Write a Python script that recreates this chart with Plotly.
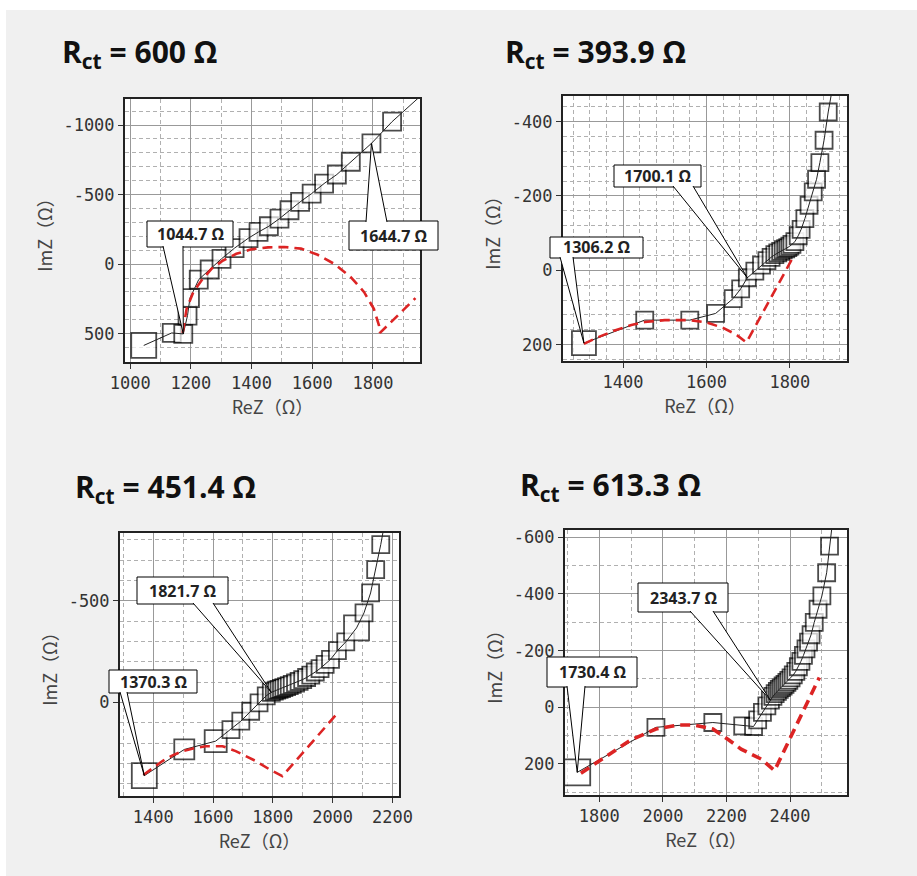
import plotly.graph_objects as go

W, H = 917, 876

# ---------------- data ----------------
rct_values = ["600", "393.9", "451.4", "613.3"]

# panel 1
p1_re = [1044.7, 1137, 1175, 1189, 1197, 1226, 1262, 1301, 1344, 1390, 1423, 1457, 1492,
         1525, 1560, 1598, 1639, 1681, 1727, 1795, 1863]
p1_im = [585, 495, 502, 370, 245, 111, 39, -38, -115, -187, -231, -272, -327,
         -387, -447, -507, -579, -644, -736, -868, -1024]
p1_tail = (1960, -1215)
p1_fit_re = [1173, 1186, 1208, 1235, 1268, 1306, 1350, 1399, 1454, 1508, 1563, 1618,
             1672, 1727, 1771, 1803, 1820, 1823, 1940]
p1_fit_im = [495, 322, 202, 118, 34, -26, -74, -106, -120, -123, -111, -67,
             -2, 94, 202, 322, 442, 495, 245]

# panel 2
p2_re = [1306.2, 1452, 1560, 1622, 1664, 1682, 1698, 1716, 1732, 1745, 1755, 1764, 1771,
         1778, 1784, 1790, 1795, 1800, 1805, 1812, 1820, 1827, 1836, 1846, 1856, 1864,
         1872, 1882, 1892]
p2_im = [196, 134, 134, 116, 76, 50, 20, 2, -14, -26, -35, -42, -47,
         -51, -55, -58, -61, -65, -70, -77, -93, -110, -139, -175, -211, -245,
         -290, -350, -426]
p2_tail = (1902, -490)
p2_fit_re = [1306, 1340, 1380, 1420, 1452, 1500, 1560, 1600, 1640, 1670, 1696, 1808]
p2_fit_im = [198, 180, 162, 147, 139, 134, 134, 140, 155, 172, 194, -36]

# panel 3
p3_re = [1370.3, 1504, 1609, 1660, 1693, 1726, 1754, 1778, 1795, 1805, 1813, 1821, 1829,
         1837, 1846, 1855, 1865, 1876, 1888, 1900, 1913, 1927, 1942, 1958, 1975, 1993,
         2016, 2044, 2080, 2105, 2127, 2144, 2161]
p3_im = [360, 231, 190, 133, 92, 43, 2, -33, -50, -56, -61, -65, -69,
         -73, -78, -83, -89, -96, -104, -113, -123, -135, -150, -167, -188, -212,
         -255, -298, -367, -441, -539, -654, -777]
p3_tail = (2170, -850)
p3_fit_re = [1367, 1400, 1431, 1465, 1498, 1540, 1576, 1632, 1676, 1743, 1790, 1832, 2022]
p3_fit_im = [357, 320, 288, 260, 239, 224, 215, 215, 239, 288, 330, 362, 43]

# panel 4
p4_re = [1730.4, 1978, 2157, 2251, 2285, 2298, 2313, 2327, 2338, 2346, 2353, 2360, 2366,
         2372, 2378, 2384, 2390, 2396, 2403, 2410, 2418, 2426, 2434, 2442, 2450, 2458,
         2466, 2476, 2488, 2500, 2515, 2524]
p4_im = [230, 71, 54, 66, 68, 45, 18, -5, -25, -38, -48, -56, -63,
         -69, -75, -81, -88, -95, -104, -114, -127, -143, -162, -183, -206, -230,
         -256, -300, -346, -393, -475, -569]
p4_tail = (2533, -650)
p4_fit_re = [1742, 1790, 1837, 1900, 1978, 2046, 2099, 2157, 2204, 2246, 2309, 2351, 2492]
p4_fit_im = [233, 196, 160, 115, 77, 63, 63, 77, 113, 148, 183, 224, -105]

# tick labels
p1_xticks = [1000, 1200, 1400, 1600, 1800]
p1_yticks = [-1000, -500, 0, 500]
p2_xticks = [1400, 1600, 1800]
p2_yticks = [-400, -200, 0, 200]
p3_xticks = [1400, 1600, 1800, 2000, 2200]
p3_yticks = [-500, 0]
p4_xticks = [1800, 2000, 2200, 2400]
p4_yticks = [-600, -400, -200, 0, 200]

callout_labels = ["1044.7 Ω", "1644.7 Ω", "1700.1 Ω", "1306.2 Ω",
                  "1821.7 Ω", "1370.3 Ω", "2343.7 Ω", "1730.4 Ω"]
callout_points = [2, 19, 6, 0, 8, 0, 8, 0]   # index of pointed data point
callout_panels = [0, 0, 1, 1, 2, 2, 3, 3]

# ---------------- layout / style ----------------
panels = [
    dict(re=p1_re, im=p1_im, tail=p1_tail, fre=p1_fit_re, fim=p1_fit_im,
         xt=p1_xticks, yt=p1_yticks,
         px=(125, 420), py=(99, 362), xr=[983, 1955], yr=[704, -1187],
         xminor=100, yminor=100, big={0: 25}, small=18, fitw=2.6,
         title_xy=(60, 53)),
    dict(re=p2_re, im=p2_im, tail=p2_tail, fre=p2_fit_re, fim=p2_fit_im,
         xt=p2_xticks, yt=p2_yticks,
         px=(563, 847), py=(96, 361), xr=[1256, 1937], yr=[244, -469],
         xminor=40, yminor=40, big={0: 24}, small=17, fitw=2.6,
         title_xy=(503, 53)),
    dict(re=p3_re, im=p3_im, tail=p3_tail, fre=p3_fit_re, fim=p3_fit_im,
         xt=p3_xticks, yt=p3_yticks,
         px=(120, 399), py=(533, 796), xr=[1289, 2222], yr=[460, -834],
         xminor=100, yminor=100, big={0: 25, 1: 20, 2: 22, 28: 25}, small=17, fitw=2.6,
         title_xy=(73, 488)),
    dict(re=p4_re, im=p4_im, tail=p4_tail, fre=p4_fit_re, fim=p4_fit_im,
         xt=p4_xticks, yt=p4_yticks,
         px=(565, 847), py=(530, 795), xr=[1692, 2579], yr=[310, -626],
         xminor=100, yminor=100, big={0: 26}, small=17, fitw=3.6,
         title_xy=(518, 486)),
]

# callout box geometry in pixels: (x0, y0, x1, y1), wedge side, wedge base x's
callout_geom = [
    ((147, 221, 233, 247), "bottom", 163, 183),
    ((349, 221, 438, 250), "top", 366, 387),
    ((614, 165, 701, 187), "bottom", 673, 693),
    ((550, 237, 643, 258), "bottom", 560, 573),
    ((137, 577, 228, 604), "bottom", 193, 213),
    ((109, 670, 197, 693), "bottom", 120, 127),
    ((638, 583, 728, 612), "bottom", 690, 713),
    ((547, 657, 637, 687), "bottom", 567, 585),
]

TICKFONT = dict(family="DejaVu Sans Mono, monospace", size=17, color="#333")
TITLEFONT = dict(family="Noto Sans CJK JP, Noto Sans, sans-serif", size=18, color="#444")
RED = "#dc2424"

fig = go.Figure()
layout = dict(width=W, height=H, margin=dict(l=0, r=0, t=0, b=0),
              paper_bgcolor="#f0f0f0", plot_bgcolor="white", showlegend=False)


def px2paper(x, y):
    return x / W, 1 - y / H


def data2px(p, x, y):
    (x0, x1), (y0, y1) = p["px"], p["py"]
    xr, yr = p["xr"], p["yr"]
    X = x0 + (x - xr[0]) / (xr[1] - xr[0]) * (x1 - x0)
    Y = y1 - (y - yr[0]) / (yr[1] - yr[0]) * (y1 - y0)
    return X, Y


for i, p in enumerate(panels):
    n = "" if i == 0 else str(i + 1)
    xa, ya = "x" + n, "y" + n
    sizes = [p["big"].get(k, p["small"]) for k in range(len(p["re"]))]
    fig.add_trace(go.Scatter(x=p["re"], y=p["im"], mode="markers", xaxis=xa, yaxis=ya,
                             marker=dict(symbol="square", size=sizes, color="white",
                                         line=dict(color="black", width=1.8))))
    fig.add_trace(go.Scatter(x=p["re"] + [p["tail"][0]], y=p["im"] + [p["tail"][1]],
                             mode="lines", xaxis=xa, yaxis=ya,
                             line=dict(color="#222", width=1)))
    fig.add_trace(go.Scatter(x=p["fre"], y=p["fim"], mode="lines", xaxis=xa, yaxis=ya,
                             line=dict(color=RED, width=p["fitw"], dash="10px,6px")))
    common = dict(showline=True, mirror=True, linewidth=2, linecolor="#222",
                  showgrid=True, gridcolor="#999", gridwidth=1, zeroline=False,
                  ticks="outside", ticklen=5, tickcolor="#333", tickfont=TICKFONT,
                  tickmode="array", automargin=False, fixedrange=True)
    layout["xaxis" + n] = dict(
        common, domain=[p["px"][0] / W, p["px"][1] / W], range=p["xr"], anchor=ya,
        tickvals=p["xt"], ticktext=[str(v) for v in p["xt"]],
        title=dict(text="ReZ（Ω）", font=TITLEFONT, standoff=4),
        minor=dict(tickmode="linear", tick0=p["xt"][0], dtick=p["xminor"], showgrid=True,
                   gridcolor="#b0b0b0", gridwidth=1, griddash="4px,3px", ticks=""))
    layout["yaxis" + n] = dict(
        common, domain=[1 - p["py"][1] / H, 1 - p["py"][0] / H], range=p["yr"], anchor=xa,
        tickvals=p["yt"], ticktext=[str(v) for v in p["yt"]],
        title=dict(text="ImZ（Ω）", font=TITLEFONT, standoff=6),
        minor=dict(tickmode="linear", tick0=p["yt"][0], dtick=p["yminor"], showgrid=True,
                   gridcolor="#b0b0b0", gridwidth=1, griddash="4px,3px", ticks=""))

shapes = [
    dict(type="rect", xref="paper", yref="paper", x0=0, x1=6 / W, y0=0, y1=1,
         fillcolor="white", line=dict(width=0), layer="below"),
    dict(type="rect", xref="paper", yref="paper", x0=0, x1=1, y0=1 - 10 / H, y1=1,
         fillcolor="white", line=dict(width=0), layer="below"),
]
annotations = []

for i, p in enumerate(panels):
    tx, ty = p["title_xy"]
    annotations.append(dict(
        xref="paper", yref="paper", x=tx / W, y=1 - ty / H, xanchor="left", yanchor="middle",
        showarrow=False,
        text="<b>R<sub>ct</sub> = %s Ω</b>" % rct_values[i],
        font=dict(family="Open Sans, Lato, sans-serif", size=30, color="#111")))

for lab, idx, pi, geom in zip(callout_labels, callout_points, callout_panels, callout_geom):
    p = panels[pi]
    (bx0, by0, bx1, by1), side, wa, wb = geom
    tipx, tipy = data2px(p, p["re"][idx], p["im"][idx])
    base = by1 - 1 if side == "bottom" else by0 + 1
    X0, Y0 = px2paper(bx0, by0)
    X1, Y1 = px2paper(bx1, by1)
    shapes.append(dict(type="rect", xref="paper", yref="paper", x0=X0, x1=X1, y0=Y1, y1=Y0,
                       fillcolor="white", line=dict(color="black", width=1), layer="above"))
    a = px2paper(wa, base)
    t = px2paper(tipx, tipy)
    b = px2paper(wb, base)
    shapes.append(dict(type="path", xref="paper", yref="paper",
                       path="M %f,%f L %f,%f L %f,%f" % (a[0], a[1], t[0], t[1], b[0], b[1]),
                       fillcolor="white", line=dict(color="black", width=1), layer="above"))
    cx, cy = px2paper((bx0 + bx1) / 2, (by0 + by1) / 2)
    annotations.append(dict(xref="paper", yref="paper", x=cx, y=cy, xanchor="center",
                            yanchor="middle", showarrow=False, text="<b>%s</b>" % lab,
                            font=dict(family="Open Sans, Noto Sans, sans-serif", size=16,
                                      color="#222")))

layout["shapes"] = shapes
layout["annotations"] = annotations
fig.update_layout(**layout)
fig.write_html("out.html")
